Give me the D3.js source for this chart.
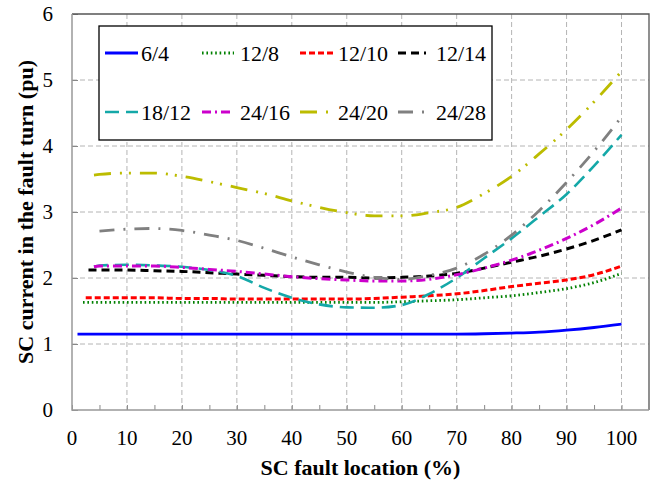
<!DOCTYPE html>
<html>
<head>
<meta charset="utf-8">
<script src="https://cdn.jsdelivr.net/npm/d3@7"></script>
<style>
  svg text { font-family: "Liberation Serif", "Times New Roman", serif; }
</style>
</head>
<body style="margin:0">
<script>
// fault location grid (%) shared by all series, from 5 to 100
const locations = d3.range(5, 101, 5);

const seriesNames = ["6/4", "12/8", "12/10", "12/14", "18/12", "24/16", "24/20", "24/28"];
// where each curve starts (first point before the 5% grid)
const startLocation = [1, 2, 2.5, 3, 4, 4, 4, 5];
const startValue = [1.15, 1.63, 1.70, 2.12, 2.17, 2.17, 3.56, 2.71];

// SC current (pu) at 5, 10, ..., 100 %
const current_6_4 = [1.15, 1.15, 1.15, 1.15, 1.15, 1.15, 1.15, 1.15, 1.15, 1.15, 1.15, 1.15, 1.15, 1.15, 1.155, 1.165, 1.18, 1.21, 1.25, 1.30];
const current_12_8 = [1.63, 1.63, 1.63, 1.63, 1.63, 1.63, 1.63, 1.63, 1.63, 1.63, 1.63, 1.64, 1.655, 1.67, 1.70, 1.73, 1.78, 1.84, 1.93, 2.07];
const current_12_10 = [1.70, 1.70, 1.70, 1.69, 1.69, 1.68, 1.68, 1.68, 1.68, 1.68, 1.69, 1.71, 1.73, 1.76, 1.81, 1.87, 1.92, 1.97, 2.05, 2.18];
const current_12_14 = [2.12, 2.12, 2.11, 2.10, 2.08, 2.06, 2.04, 2.02, 2.01, 2.01, 2.00, 2.01, 2.03, 2.07, 2.15, 2.24, 2.33, 2.44, 2.57, 2.73];
const current_18_12 = [2.19, 2.20, 2.19, 2.17, 2.12, 2.03, 1.85, 1.70, 1.60, 1.555, 1.55, 1.59, 1.76, 2.00, 2.30, 2.60, 2.93, 3.27, 3.70, 4.17];
const current_24_16 = [2.18, 2.18, 2.18, 2.16, 2.13, 2.10, 2.06, 2.02, 1.99, 1.97, 1.955, 1.955, 1.98, 2.05, 2.15, 2.27, 2.42, 2.60, 2.81, 3.06];
const current_24_20 = [3.57, 3.59, 3.59, 3.54, 3.46, 3.37, 3.28, 3.17, 3.07, 2.99, 2.94, 2.94, 2.99, 3.07, 3.28, 3.54, 3.88, 4.25, 4.67, 5.13];
const current_24_28 = [2.71, 2.74, 2.75, 2.72, 2.65, 2.57, 2.45, 2.32, 2.20, 2.09, 2.01, 1.98, 2.04, 2.15, 2.36, 2.65, 3.02, 3.45, 3.92, 4.44];

const seriesValues = [current_6_4, current_12_8, current_12_10, current_12_14, current_18_12, current_24_16, current_24_20, current_24_28];

const xTicks = d3.range(0, 101, 10);
const yTicks = d3.range(0, 7, 1);

// styling per series: colour, width, dash pattern
const styles = [
  { color: "#0000ff", width: 2.8, dash: null },
  { color: "#008000", width: 2.8, dash: "1.6,2.8" },
  { color: "#ff0000", width: 3, dash: "6,3" },
  { color: "#000000", width: 3, dash: "8,5" },
  { color: "#14a8a8", width: 2.6, dash: "14,7" },
  { color: "#cc00cc", width: 3, dash: "9,4,2,4" },
  { color: "#bcbc00", width: 2.8, dash: "17,9,2,7,2,9" },
  { color: "#808080", width: 2.8, dash: "15,9,2,9" },
];

const W = 652, H = 482;
const plot = { left: 72, right: 649, top: 14, bottom: 410 };
const FONT = "Liberation Serif";

const svg = d3.select("body").append("svg").attr("width", W).attr("height", H)
  .attr("font-family", FONT);

// serif face on a text selection: attribute and inline style both
const serif = (sel) => sel.attr("font-family", FONT).style("font-family", FONT);

const x = d3.scaleLinear().domain([0, 105]).range([plot.left, plot.right]);
const y = d3.scaleLinear().domain([0, 6]).range([plot.bottom, plot.top]);

// grid lines
const grid = svg.append("g").attr("stroke", "#b4b4b4").attr("stroke-width", 1).attr("stroke-dasharray", "5,3");
grid.selectAll("line.v").data(xTicks.filter((d) => d > 0)).join("line")
  .attr("x1", (d) => x(d)).attr("x2", (d) => x(d))
  .attr("y1", plot.top).attr("y2", plot.bottom);
grid.selectAll("line.h").data(yTicks.filter((d) => d > 0 && d < 6)).join("line")
  .attr("x1", plot.left).attr("x2", plot.right)
  .attr("y1", (d) => y(d)).attr("y2", (d) => y(d));

// axes: ticks inside the frame
const xAxis = d3.axisBottom(x).tickValues(d3.range(0, 101, 5)).tickSize(-5).tickFormat("");
svg.append("g").attr("transform", `translate(0,${plot.bottom})`).call(xAxis)
  .call((g) => g.select(".domain").remove())
  .call((g) => g.selectAll("line").attr("stroke", "#888"));
const yAxis = d3.axisLeft(y).tickValues(yTicks).tickSize(-6).tickFormat("");
svg.append("g").attr("transform", `translate(${plot.left},0)`).call(yAxis)
  .call((g) => g.select(".domain").remove())
  .call((g) => g.selectAll("line").attr("stroke", "#888"));

// frame
svg.append("path").attr("fill", "none").attr("stroke", "#555").attr("stroke-width", 1.3)
  .attr("d", `M${plot.left},${plot.top}H${plot.right}V${plot.bottom}`);
svg.append("path").attr("fill", "none").attr("stroke", "#999").attr("stroke-width", 1.5)
  .attr("d", `M${plot.left},${plot.top}V${plot.bottom}H${plot.right}`);

// tick labels
svg.append("g").selectAll("text").data(xTicks).join("text")
  .attr("x", (d) => x(d)).attr("y", plot.bottom + 35)
  .attr("text-anchor", "middle").attr("font-size", 21).call(serif).text((d) => d);
svg.append("g").selectAll("text").data(yTicks).join("text")
  .attr("x", plot.left - 19).attr("y", (d) => y(d) + 7)
  .attr("text-anchor", "end").attr("font-size", 21).call(serif).text((d) => d);

// axis titles
svg.append("text").attr("x", (plot.left + plot.right) / 2).attr("y", 475)
  .attr("text-anchor", "middle").attr("font-size", 22).attr("font-weight", "bold")
  .call(serif).text("SC fault location (%)");
svg.append("text").attr("transform", `translate(33,${(plot.top + plot.bottom) / 2}) rotate(-90)`)
  .attr("text-anchor", "middle").attr("font-size", 22).attr("font-weight", "bold")
  .call(serif).text("SC current in the fault turn (pu)");

// series
const series = seriesNames.map((name, i) => {
  const pts = [];
  if (startLocation[i] < locations[0]) pts.push([startLocation[i], startValue[i]]);
  locations.forEach((loc, j) => pts.push([loc, seriesValues[i][j]]));
  return { name, pts, style: styles[i] };
});

const line = d3.line().x((d) => x(d[0])).y((d) => y(d[1])).curve(d3.curveMonotoneX);

svg.append("g").selectAll("path").data(series).join("path")
  .attr("fill", "none")
  .attr("stroke", (s) => s.style.color)
  .attr("stroke-width", (s) => s.style.width)
  .attr("stroke-dasharray", (s) => s.style.dash)
  .attr("d", (s) => line(s.pts));

// legend
const legend = svg.append("g");
legend.append("rect").attr("x", 99).attr("y", 26).attr("width", 393).attr("height", 114)
  .attr("fill", "#fff").attr("stroke", "#000").attr("stroke-width", 1.3);
const colSample = [105, 202, 300, 398];
const colSampleEnd = [138, 234, 335, 426];
const colText = [141, 240, 338, 436];
const rowY = [53, 112];
const item = legend.selectAll("g.item").data(series).join("g")
  .attr("transform", (s, i) => `translate(0,${rowY[Math.floor(i / 4)]})`);
item.append("line")
  .attr("x1", (s, i) => colSample[i % 4]).attr("x2", (s, i) => colSampleEnd[i % 4])
  .attr("y1", 0).attr("y2", 0)
  .attr("stroke", (s) => s.style.color)
  .attr("stroke-width", (s) => s.style.width)
  .attr("stroke-dasharray", (s) => s.style.dash);
item.append("text")
  .attr("x", (s, i) => colText[i % 4]).attr("y", 7.5)
  .attr("font-size", 22).call(serif).text((s) => s.name);
</script>
</body>
</html>
